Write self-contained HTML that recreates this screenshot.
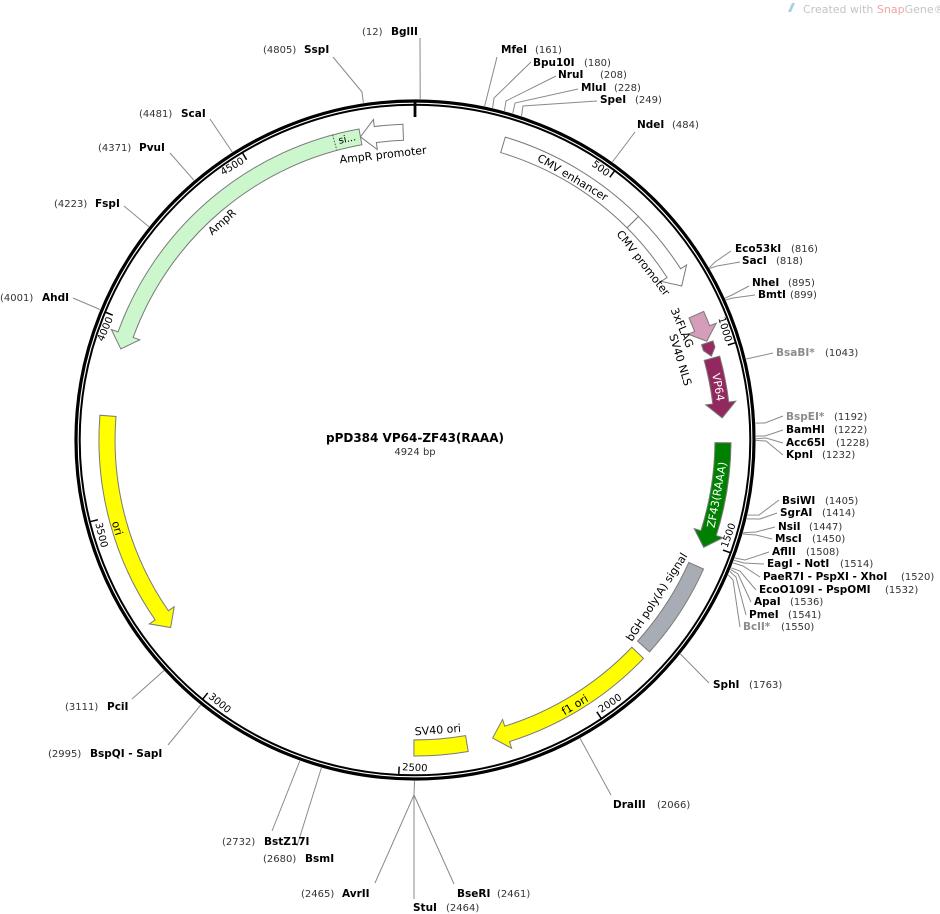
<!DOCTYPE html>
<html><head><meta charset="utf-8"><style>
html,body{margin:0;padding:0;background:#fff;}
svg{display:block;font-family:"DejaVu Sans","Liberation Sans",sans-serif;}
.n{font-size:10px;fill:#333;}
.b{font-size:10.5px;font-weight:bold;fill:#000;}
.g{font-size:10.5px;font-weight:bold;fill:#8c8c8c;}
.ln{stroke:#8a8a8a;stroke-width:1;fill:none;}
.tk{font-size:10px;fill:#000;dominant-baseline:central;}
.fl{font-size:11px;fill:#000;dominant-baseline:central;text-anchor:middle;}
.ft{stroke:#7a7a7a;stroke-width:1;}
</style></head><body>
<svg width="940" height="914" viewBox="0 0 940 914" xmlns="http://www.w3.org/2000/svg">
<rect width="940" height="914" fill="#fff"/>
<path d="M788 12 L792 3 L795 3 L791 12 Z" fill="#a8cfe6"/>
<text x="803" y="13" font-size="11" fill="#c4c4c4">Created with <tspan fill="#f2a3a3">Snap</tspan>Gene®</text>

<circle cx="415" cy="440" r="339" fill="none" stroke="#000" stroke-width="3.2"/>
<circle cx="415" cy="440" r="335.3" fill="none" stroke="#000" stroke-width="2"/>
<line x1="415" y1="101" x2="415" y2="117" stroke="#000" stroke-width="2.8"/>

<g stroke="#000" stroke-width="1.5">
<line x1="415" y1="105" x2="415" y2="113" transform="rotate(36.56 415 440)"/>
<line x1="415" y1="105" x2="415" y2="113" transform="rotate(73.11 415 440)"/>
<line x1="415" y1="105" x2="415" y2="113" transform="rotate(109.67 415 440)"/>
<line x1="415" y1="105" x2="415" y2="113" transform="rotate(146.22 415 440)"/>
<line x1="415" y1="105" x2="415" y2="113" transform="rotate(182.78 415 440)"/>
<line x1="415" y1="105" x2="415" y2="113" transform="rotate(219.33 415 440)"/>
<line x1="415" y1="105" x2="415" y2="113" transform="rotate(255.89 415 440)"/>
<line x1="415" y1="105" x2="415" y2="113" transform="rotate(292.44 415 440)"/>
<line x1="415" y1="105" x2="415" y2="113" transform="rotate(329 415 440)"/>
</g>
<text class="tk" x="412" y="112" text-anchor="end" transform="rotate(36.56 415 440)">500</text>
<text class="tk" x="412" y="112" text-anchor="end" transform="rotate(73.11 415 440)">1000</text>
<text class="tk" x="418" y="768" text-anchor="start" transform="rotate(-70.33 415 440)">1500</text>
<text class="tk" x="418" y="768" text-anchor="start" transform="rotate(-33.78 415 440)">2000</text>
<text class="tk" x="418" y="768" text-anchor="start" transform="rotate(2.78 415 440)">2500</text>
<text class="tk" x="418" y="768" text-anchor="start" transform="rotate(39.33 415 440)">3000</text>
<text class="tk" x="418" y="768" text-anchor="start" transform="rotate(75.89 415 440)">3500</text>
<text class="tk" x="412" y="112" text-anchor="end" transform="rotate(292.44 415 440)">4000</text>
<text class="tk" x="412" y="112" text-anchor="end" transform="rotate(329 415 440)">4500</text>

<g transform="translate(415 440) scale(1.0065) translate(-415 -440)">
<g class="ft">
<path transform="rotate(16.6 415 440)" fill="#fff" d="M415 126 A314 314 0 0 1 564.35 163.79 L556.73 177.86 A298 298 0 0 0 415 142 Z"/>
<path transform="rotate(45 415 440)" fill="#fff" d="M415 126 A314 314 0 0 1 481.35 133.09 L482.83 126.25 L494.2 144.43 L476.49 155.57 L477.97 148.73 A298 298 0 0 0 415 142 Z"/>
<path transform="rotate(66 415 440)" fill="#d59dba" d="M415 126 A314 314 0 0 1 430.34 126.37 L430.68 119.38 L443.27 135.31 L429.22 149.35 L429.56 142.35 A298 298 0 0 0 415 142 Z"/>
<path transform="rotate(71.6 415 440)" fill="#962d62" d="M415 128 L421.53 128.07 L428.88 134.32 L421.28 140.07 L415 140 Z"/>
<path transform="rotate(74.6 415 440)" fill="#93285e" d="M415 126 A314 314 0 0 1 461.41 129.45 L462.45 122.52 L474.96 139.93 L458.01 152.2 L459.05 145.27 A298 298 0 0 0 415 142 Z"/>
<path transform="rotate(90.5 415 440)" fill="#008000" d="M415 126 A314 314 0 0 1 507.33 139.88 L509.39 133.19 L519.16 152.27 L500.57 161.87 L502.62 155.17 A298 298 0 0 0 415 142 Z"/>
<path transform="rotate(114.1 415 440)" fill="#a8adb5" d="M415 126 A314 314 0 0 1 512.03 141.37 L507.09 156.58 A298 298 0 0 0 415 142 Z"/>
<path transform="rotate(133.7 415 440)" fill="#ffff00" d="M415 126 A314 314 0 0 1 566.75 165.11 L570.13 158.98 L575.79 179.65 L555.63 185.24 L559.02 179.11 A298 298 0 0 0 415 142 Z"/>
<path transform="rotate(170.3 415 440)" fill="#ffff00" d="M415 126 A314 314 0 0 1 469 130.68 L466.25 146.44 A298 298 0 0 0 415 142 Z"/>
<path transform="rotate(232.5 415 440)" fill="#ffff00" d="M415 134 L430.68 119.38 L430.34 126.37 A314 314 0 0 1 625.11 206.65 L614.4 218.54 A298 298 0 0 0 429.56 142.35 L429.22 149.35 Z"/>
<path transform="rotate(287.2 415 440)" fill="#ccf7cc" d="M415 134 L430.68 119.38 L430.34 126.37 A314 314 0 0 1 693.78 295.5 L679.57 302.86 A298 298 0 0 0 429.56 142.35 L429.22 149.35 Z"/>
<line transform="rotate(287.2 415 440)" x1="680.41" y1="272.21" x2="666.89" y2="280.76" stroke="#555" stroke-dasharray="1.5 1.5"/>
<path transform="rotate(349.8 415 440)" fill="#fff" d="M415 134 L430.68 119.38 L430.34 126.37 A314 314 0 0 1 458.7 129.06 L456.47 144.9 A298 298 0 0 0 429.56 142.35 L429.22 149.35 Z"/>
</g>
</g>

<text class="fl" x="415" y="134" transform="rotate(31 415 440)">CMV enhancer</text>
<text class="fl" x="415" y="151.4" transform="rotate(52.2 415 440)">CMV promoter</text>
<text class="fl" x="415" y="150.5" transform="rotate(67.2 415 440)">3xFLAG</text>
<text class="fl" x="415" y="163" transform="rotate(73.2 415 440)">SV40 NLS</text>
<text class="fl" x="415" y="132.4" transform="rotate(80.1 415 440)" style="fill:#fff">VP64</text>
<text class="fl" x="415" y="747" transform="rotate(-79.7 415 440)" style="fill:#fff">ZF43(RAAA)</text>
<text class="fl" x="415" y="728.5" transform="rotate(-57 415 440)">bGH poly(A) signal</text>
<text class="fl" x="415" y="749.6" transform="rotate(-31.1 415 440)">f1 ori</text>
<text class="fl" x="415" y="731" transform="rotate(-4.5 415 440)">SV40 ori</text>
<text class="fl" x="415" y="750.7" transform="rotate(73.5 415 440)">ori</text>
<text class="fl" x="415" y="149" transform="rotate(-41.5 415 440)">AmpR</text>
<text class="fl" x="415" y="153.2" transform="rotate(-6.4 415 440)">AmpR promoter</text>
<text class="fl" x="415" y="132" transform="rotate(-12.7 415 440)" style="font-size:10px">si...</text>

<text x="415" y="442" text-anchor="middle" font-size="12" font-weight="bold">pPD384 VP64-ZF43(RAAA)</text>
<text x="415" y="455" text-anchor="middle" font-size="10" fill="#333">4924 bp</text>

<g class="ln">
<polyline points="420.2,99 420,38"/>
<polyline points="363.4,102.9 362,92 333,57"/>
<polyline points="232.3,152.1 210,119"/>
<polyline points="194,180.3 170,153"/>
<polyline points="148.9,226.8 124,206"/>
<polyline points="100,309.5 73,298"/>
<polyline points="484.6,106.2 497,57"/>
<polyline points="492.6,108 494,98 531,62"/>
<polyline points="504.4,110.9 506,101 556,76"/>
<polyline points="512.8,113.3 515,103 578,89"/>
<polyline points="521.5,116 523,106 597,101"/>
<polyline points="612.4,162 635,132"/>
<polyline points="709.3,267.7 715,262 731,251"/>
<polyline points="709.6,268.4 717,266 740,262"/>
<polyline points="725.1,298.1 732,295 749,286"/>
<polyline points="725.7,299.9 733,298 755,295"/>
<polyline points="746.2,359 773,353"/>
<polyline points="755.6,423.1 765,423 783,416"/>
<polyline points="756,436.1 765,436 783,430"/>
<polyline points="756,438.7 766,438 783,443"/>
<polyline points="756,440.4 766,441 783,455"/>
<polyline points="747.6,515.1 759,515 779,500"/>
<polyline points="746.8,518.9 760,519 777,513"/>
<polyline points="743.1,532.8 756,532 775,527"/>
<polyline points="742.8,534 756,535 772,539"/>
<polyline points="734.9,558 745,560 769,552"/>
<polyline points="734,560.4 744,563 764,564"/>
<polyline points="733.1,562.9 743,566 760,577"/>
<polyline points="731.1,567.8 740,571 756,590"/>
<polyline points="730.5,569.4 738,574 751,602"/>
<polyline points="729.7,571.4 736,577 746,615"/>
<polyline points="728.2,574.9 733,580 740,627"/>
<polyline points="680.4,654 709,683"/>
<polyline points="580.1,738.4 611,795"/>
<polyline points="414.5,781 414,795 375,883"/>
<polyline points="414,795 414,899"/>
<polyline points="414,795 454,884"/>
<polyline points="321.4,767.9 297,846"/>
<polyline points="299.8,761 272,831"/>
<polyline points="200.6,705.2 168,745"/>
<polyline points="163.9,670.6 132,699"/>
</g>

<text class="n" x="362" y="35">(12)</text><text class="b" x="391" y="35">BglII</text>
<text class="n" x="263" y="53">(4805)</text><text class="b" x="304" y="53">SspI</text>
<text class="n" x="139" y="117">(4481)</text><text class="b" x="181" y="117">ScaI</text>
<text class="n" x="98" y="151">(4371)</text><text class="b" x="139" y="151">PvuI</text>
<text class="n" x="54" y="207">(4223)</text><text class="b" x="95" y="207">FspI</text>
<text class="n" x="0" y="301">(4001)</text><text class="b" x="42" y="301">AhdI</text>

<text class="b" x="501" y="53">MfeI</text><text class="n" x="535" y="53">(161)</text>
<text class="b" x="533" y="66">Bpu10I</text><text class="n" x="584" y="66">(180)</text>
<text class="b" x="558" y="78">NruI</text><text class="n" x="600" y="78">(208)</text>
<text class="b" x="581" y="91">MluI</text><text class="n" x="614" y="91">(228)</text>
<text class="b" x="600" y="103">SpeI</text><text class="n" x="635" y="103">(249)</text>
<text class="b" x="637" y="128">NdeI</text><text class="n" x="672" y="128">(484)</text>
<text class="b" x="735" y="252">Eco53kI</text><text class="n" x="791" y="252">(816)</text>
<text class="b" x="742" y="264">SacI</text><text class="n" x="776" y="264">(818)</text>
<text class="b" x="752" y="286">NheI</text><text class="n" x="788" y="286">(895)</text>
<text class="b" x="758" y="298">BmtI</text><text class="n" x="790" y="298">(899)</text>
<text class="g" x="776" y="356">BsaBI*</text><text class="n" x="825" y="356">(1043)</text>
<text class="g" x="786" y="420">BspEI*</text><text class="n" x="834" y="420">(1192)</text>
<text class="b" x="786" y="433">BamHI</text><text class="n" x="834" y="433">(1222)</text>
<text class="b" x="786" y="446">Acc65I</text><text class="n" x="836" y="446">(1228)</text>
<text class="b" x="786" y="458">KpnI</text><text class="n" x="822" y="458">(1232)</text>
<text class="b" x="782" y="504">BsiWI</text><text class="n" x="825" y="504">(1405)</text>
<text class="b" x="780" y="516">SgrAI</text><text class="n" x="822" y="516">(1414)</text>
<text class="b" x="778" y="530">NsiI</text><text class="n" x="809" y="530">(1447)</text>
<text class="b" x="775" y="542">MscI</text><text class="n" x="812" y="542">(1450)</text>
<text class="b" x="772" y="555">AflII</text><text class="n" x="806" y="555">(1508)</text>
<text class="b" x="767" y="567">EagI - NotI</text><text class="n" x="840" y="567">(1514)</text>
<text class="b" x="763" y="580">PaeR7I - PspXI - XhoI</text><text class="n" x="901" y="580">(1520)</text>
<text class="b" x="759" y="593">EcoO109I - PspOMI</text><text class="n" x="885" y="593">(1532)</text>
<text class="b" x="754" y="605">ApaI</text><text class="n" x="790" y="605">(1536)</text>
<text class="b" x="749" y="618">PmeI</text><text class="n" x="788" y="618">(1541)</text>
<text class="g" x="743" y="630">BclI*</text><text class="n" x="781" y="630">(1550)</text>
<text class="b" x="713" y="688">SphI</text><text class="n" x="749" y="688">(1763)</text>
<text class="b" x="613" y="808">DraIII</text><text class="n" x="657" y="808">(2066)</text>
<text class="b" x="457" y="897">BseRI</text><text class="n" x="497" y="897">(2461)</text>
<text class="b" x="413" y="911">StuI</text><text class="n" x="446" y="911">(2464)</text>
<text class="n" x="301" y="897">(2465)</text><text class="b" x="342" y="897">AvrII</text>
<text class="n" x="222" y="845">(2732)</text><text class="b" x="264" y="845">BstZ17I</text>
<text class="n" x="263" y="862">(2680)</text><text class="b" x="305" y="862">BsmI</text>
<text class="n" x="48" y="757">(2995)</text><text class="b" x="90" y="757">BspQI - SapI</text>
<text class="n" x="65" y="710">(3111)</text><text class="b" x="107" y="710">PciI</text>
</svg>
</body></html>
